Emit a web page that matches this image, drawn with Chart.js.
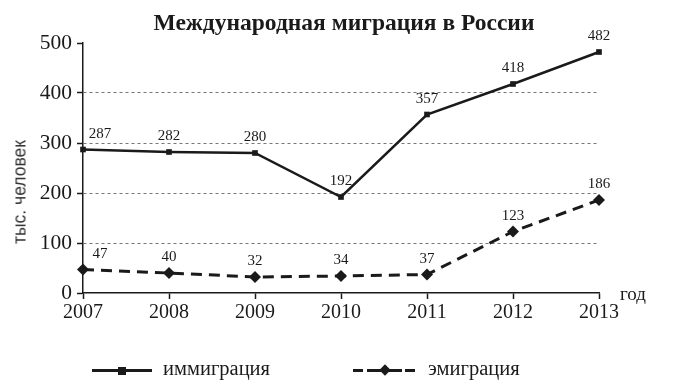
<!DOCTYPE html>
<html><head><meta charset="utf-8">
<script src="https://cdn.jsdelivr.net/npm/chart.js@4"></script>
<style>
html,body{margin:0;padding:0;background:#fff;}
#wrap{position:relative;width:688px;height:390px;overflow:hidden;}
#c{position:absolute;left:0;top:0;}
.t{position:absolute;color:#1a1a1a;white-space:nowrap;line-height:1.2;}
#title{left:0;width:688px;top:9px;text-align:center;font:bold 23.5px "Liberation Serif",serif;}
#ytitle{left:20px;top:192px;transform:translate(-50%,-50%) rotate(-90deg);font:17.5px "Liberation Sans",sans-serif;color:#333;}
#god{left:620px;top:283px;font:19px "Liberation Serif",serif;}
.lg{position:absolute;height:0;border-top:3px solid #1a1a1a;}
#l1{left:92px;top:369px;width:60px;}
#m1{left:118px;top:367px;width:8px;height:8px;background:#1a1a1a;position:absolute;}
#l2a{left:353px;top:369px;width:10px;}
#l2b{left:367px;top:369px;width:35px;}
#l2c{left:405px;top:369px;width:10px;}
#m2{left:381px;top:366px;width:8px;height:8px;background:#1a1a1a;position:absolute;transform:rotate(45deg);}
#t1{left:163px;top:357px;font:20.5px "Liberation Serif",serif;}
#t2{left:428px;top:357px;font:20.5px "Liberation Serif",serif;}
</style></head>
<body><div id="wrap">
<canvas id="c" width="688" height="390"></canvas>
<div class="t" id="title">Международная миграция в России</div>
<div class="t" id="ytitle">тыс. человек</div>
<div class="t" id="god">год</div>
<div class="lg" id="l1"></div><div id="m1"></div>
<div class="lg" id="l2a"></div><div class="lg" id="l2b"></div><div class="lg" id="l2c"></div><div id="m2"></div>
<div class="t" id="t1">иммиграция</div>
<div class="t" id="t2">эмиграция</div>
</div>
<script>
const years = ["2007","2008","2009","2010","2011","2012","2013"];
const immigration = [287, 282, 280, 192, 357, 418, 482];
const emigration = [47, 40, 32, 34, 37, 123, 186];
const yTicks = [0, 100, 200, 300, 400, 500];

const INK = '#1a1a1a';
const labelPlugin = {
  id: 'vlabels',
  afterDatasetsDraw(chart) {
    const ctx = chart.ctx;
    ctx.save();
    ctx.font = '15px "Liberation Serif", serif';
    ctx.fillStyle = INK;
    ctx.textAlign = 'center';
    ctx.textBaseline = 'bottom';
    chart.data.datasets.forEach((ds, di) => {
      const meta = chart.getDatasetMeta(di);
      meta.data.forEach((pt, i) => {
        const dx = i === 0 ? 17 : 0;
        ctx.fillText(String(ds.data[i]), pt.x + dx, pt.y - 8);
      });
    });
    ctx.restore();
  }
};

new Chart(document.getElementById('c'), {
  type: 'line',
  data: {
    labels: years,
    datasets: [
      { label: 'иммиграция', data: immigration, borderColor: INK, backgroundColor: INK,
        borderWidth: 2.5, pointStyle: 'rect', pointRadius: 4, pointBorderWidth: 0, tension: 0, clip: false },
      { label: 'эмиграция', data: emigration, borderColor: INK, backgroundColor: INK,
        borderWidth: 3, borderDash: [11, 7], pointStyle: 'rectRot', pointRadius: 6, pointBorderWidth: 0, tension: 0, clip: false }
    ]
  },
  options: {
    responsive: false, animation: false,
    layout: { padding: { top: 43, right: 89, left: 0, bottom: 0 } },
    plugins: { legend: { display: false }, tooltip: { enabled: false }, title: { display: false } },
    scales: {
      x: {
        offset: false,
        grid: { drawOnChartArea: false, drawTicks: true, tickLength: 6, tickColor: INK, tickWidth: 1.5 },
        border: { color: INK, width: 1.5 },
        ticks: { color: INK, font: { family: '"Liberation Serif", serif', size: 20 }, padding: 2, maxRotation: 0, autoSkip: false },
        afterFit(s) { s.height = 97; }
      },
      y: {
        min: 0, max: 500,
        afterBuildTicks(s) { s.ticks = yTicks.map(v => ({ value: v })); },
        grid: {
          color: c => (c.tick && c.tick.value > 0 && c.tick.value < 500) ? '#777' : 'rgba(0,0,0,0)',
          lineWidth: 1, tickLength: 6, tickColor: INK, tickWidth: 1.5
        },
        border: { color: INK, width: 1.5, dash: [3, 3] },
        ticks: { color: INK, font: { family: '"Liberation Serif", serif', size: 21.5 }, padding: 5 },
        afterFit(s) { s.width = 83; }
      }
    }
  },
  plugins: [labelPlugin]
});
</script>
</body></html>
